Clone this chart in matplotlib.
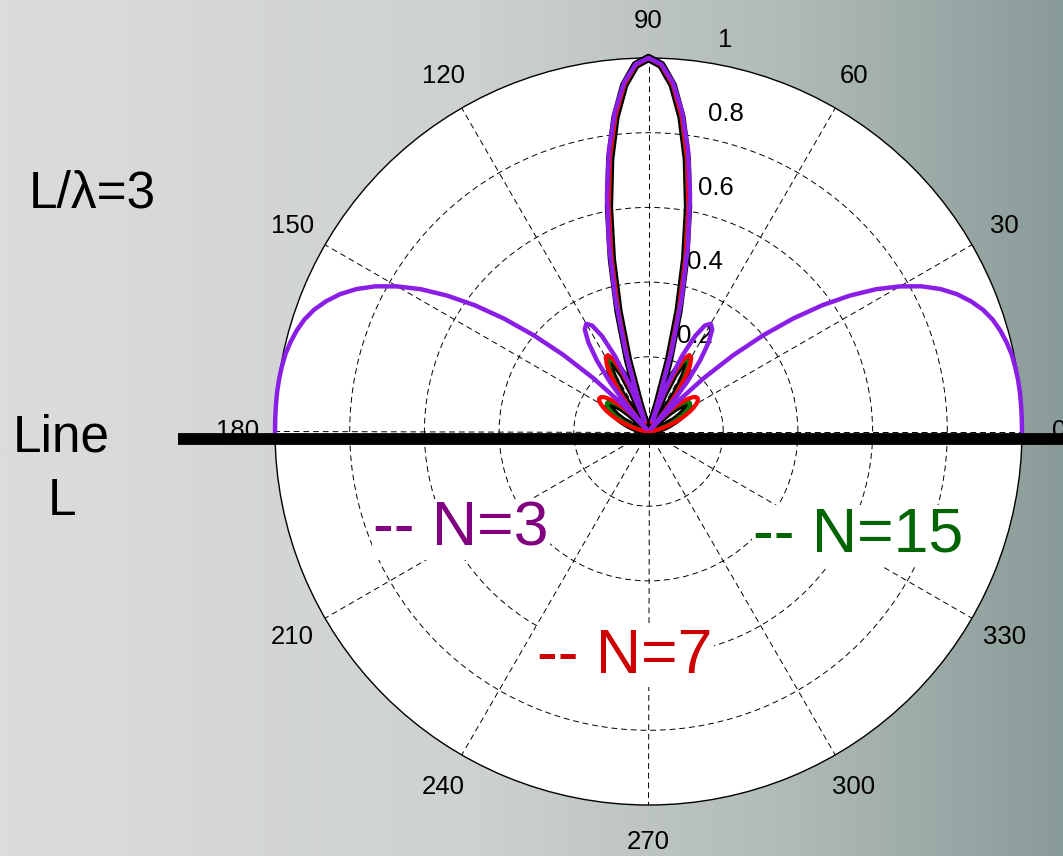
import numpy as np
import matplotlib.pyplot as plt
from matplotlib.lines import Line2D
from matplotlib.colors import LinearSegmentedColormap
import matplotlib.transforms as mtransforms

plt.rcParams['font.family'] = ['Liberation Sans', 'DejaVu Sans']

ang = np.arange(0, 181, 2)  # 각도 (도)

# 연속 선원 L/lambda=3 (검정)
r_line = [0.000, 0.001, 0.002, 0.006, 0.010, 0.015, 0.022, 0.030, 0.039, 0.050,
          0.061, 0.073, 0.085, 0.096, 0.107, 0.117, 0.124, 0.128, 0.128, 0.123,
          0.112, 0.094, 0.070, 0.040, 0.004, 0.037, 0.080, 0.122, 0.161, 0.192,
          0.212, 0.217, 0.202, 0.166, 0.107, 0.025, 0.078, 0.199, 0.333, 0.472,
          0.610, 0.737, 0.846, 0.930, 0.982, 1.000,
          0.982, 0.930, 0.846, 0.737, 0.610,
          0.472, 0.333, 0.199, 0.078, 0.025, 0.107, 0.166, 0.202, 0.217, 0.212,
          0.192, 0.161, 0.122, 0.080, 0.037, 0.004, 0.040, 0.070, 0.094, 0.112,
          0.123, 0.128, 0.128, 0.124, 0.117, 0.107, 0.096, 0.085, 0.073, 0.061,
          0.050, 0.039, 0.030, 0.022, 0.015, 0.010, 0.006, 0.002, 0.001, 0.000]

# N=15 (초록)
r_n15 = [0.000, 0.001, 0.003, 0.006, 0.011, 0.016, 0.024, 0.032, 0.042, 0.053,
         0.065, 0.077, 0.089, 0.102, 0.113, 0.123, 0.130, 0.134, 0.133, 0.128,
         0.116, 0.098, 0.073, 0.041, 0.004, 0.038, 0.082, 0.125, 0.164, 0.196,
         0.216, 0.220, 0.205, 0.168, 0.108, 0.026, 0.079, 0.200, 0.334, 0.474,
         0.611, 0.738, 0.847, 0.930, 0.982, 1.000,
         0.982, 0.930, 0.847, 0.738, 0.611,
         0.474, 0.334, 0.200, 0.079, 0.026, 0.108, 0.168, 0.205, 0.220, 0.216,
         0.196, 0.164, 0.125, 0.082, 0.038, 0.004, 0.041, 0.073, 0.098, 0.116,
         0.128, 0.133, 0.134, 0.130, 0.123, 0.113, 0.102, 0.089, 0.077, 0.065,
         0.053, 0.042, 0.032, 0.024, 0.016, 0.011, 0.006, 0.003, 0.001, 0.000]

# N=7 (빨강)
r_n7 = [0.000, 0.001, 0.003, 0.008, 0.014, 0.021, 0.030, 0.041, 0.053, 0.066,
        0.081, 0.096, 0.110, 0.125, 0.137, 0.148, 0.156, 0.159, 0.157, 0.149,
        0.134, 0.112, 0.083, 0.046, 0.004, 0.042, 0.090, 0.136, 0.177, 0.210,
        0.229, 0.232, 0.215, 0.175, 0.112, 0.026, 0.080, 0.204, 0.339, 0.479,
        0.615, 0.742, 0.849, 0.931, 0.982, 1.000,
        0.982, 0.931, 0.849, 0.742, 0.615,
        0.479, 0.339, 0.204, 0.080, 0.026, 0.112, 0.175, 0.215, 0.232, 0.229,
        0.210, 0.177, 0.136, 0.090, 0.042, 0.004, 0.046, 0.083, 0.112, 0.134,
        0.149, 0.157, 0.159, 0.156, 0.148, 0.137, 0.125, 0.110, 0.096, 0.081,
        0.066, 0.053, 0.041, 0.030, 0.021, 0.014, 0.008, 0.003, 0.001, 0.000]

# N=3 (보라)
r_n3 = [1.000, 1.000, 1.000, 1.000, 0.999, 0.997, 0.994, 0.988, 0.980, 0.969,
        0.953, 0.931, 0.904, 0.870, 0.828, 0.777, 0.719, 0.651, 0.575, 0.491,
        0.400, 0.305, 0.206, 0.106, 0.009, 0.082, 0.166, 0.235, 0.288, 0.322,
        0.333, 0.321, 0.284, 0.222, 0.136, 0.031, 0.092, 0.226, 0.367, 0.508,
        0.641, 0.761, 0.861, 0.937, 0.984, 1.000,
        0.984, 0.937, 0.861, 0.761, 0.641,
        0.508, 0.367, 0.226, 0.092, 0.031, 0.136, 0.222, 0.284, 0.321, 0.333,
        0.322, 0.288, 0.235, 0.166, 0.082, 0.009, 0.106, 0.206, 0.305, 0.400,
        0.491, 0.575, 0.651, 0.719, 0.777, 0.828, 0.870, 0.904, 0.931, 0.953,
        0.969, 0.980, 0.988, 0.994, 0.997, 0.999, 1.000, 1.000, 1.000, 1.000]

ring_r = [0.2, 0.4, 0.6, 0.8, 1.0]
ring_labels = ['0.2', '0.4', '0.6', '0.8', '1']
theta_ticks = list(range(0, 360, 30))

fig = plt.figure(figsize=(10.63, 8.56), dpi=100)

# 배경 그라데이션
bg = fig.add_axes([0, 0, 1, 1], zorder=-10)
cmap = LinearSegmentedColormap.from_list(
    'bg', [(0, '#dcdcdc'), (0.45, '#cdd1d1'), (0.75, '#afbab8'), (1, '#899b98')])
bg.imshow(np.linspace(0, 1, 512).reshape(1, -1), aspect='auto', cmap=cmap,
          extent=[0, 1, 0, 1])
bg.axis('off')

ax = fig.add_axes([275 / 1063, 51 / 856, 747 / 1063, 747 / 856], projection='polar')
ax.set_facecolor('white')
ax.set_ylim(0, 1)
ax.set_yticks(ring_r[:-1])
ax.set_yticklabels([])
ax.set_xticks(np.deg2rad(theta_ticks))
ax.set_xticklabels([])
ax.tick_params(length=0)
ax.grid(True, color='k', lw=0.7, ls=(0, (6, 4)))
ax.spines['polar'].set_linewidth(1.0)

th = np.deg2rad(ang)
ax.plot(th, r_line, color='k', lw=6, zorder=3, clip_on=False)
ax.plot(th, r_n15, color='#007a00', lw=3, zorder=4, clip_on=False)
ax.plot(th, r_n7, color='red', lw=3, zorder=5, clip_on=False)
ax.plot(th, r_n3, color='#8a1ee6', lw=3.2, zorder=6, clip_on=False)

# 각도 눈금
for t in theta_ticks:
    ax.text(np.deg2rad(t), 1.1, str(t), ha='center', va='center',
            fontsize=18.5, clip_on=False)

# 반지름 눈금
trans = mtransforms.offset_copy(ax.transData, fig=fig, x=18, y=22, units='dots')
for r, lab in zip(ring_r, ring_labels):
    ax.text(np.deg2rad(82), r, lab, transform=trans, ha='left', va='center',
            fontsize=18.5)

# 선 L
fig.add_artist(Line2D([178 / 1063, 1], [1 - 438.5 / 856, 1 - 438.5 / 856],
                      transform=fig.transFigure, color='k', lw=8.5,
                      solid_capstyle='butt'))

H = 856.0
W = 1063.0
fig.text(92 / W, 1 - 207 / H, 'L/λ=3', fontsize=37, ha='center', va='baseline')
fig.text(61 / W, 1 - 452 / H, 'Line', fontsize=37, ha='center', va='baseline')
fig.text(62 / W, 1 - 515 / H, 'L', fontsize=37, ha='center', va='baseline')

box = dict(facecolor='white', edgecolor='none', pad=1)
fig.text(461 / W, 1 - 546 / H, '-- N=3', fontsize=45, color='#800080',
         ha='center', va='baseline', bbox=box)
fig.text(858 / W, 1 - 552 / H, '-- N=15', fontsize=45, color='#006400',
         ha='center', va='baseline', bbox=box)
fig.text(625 / W, 1 - 673 / H, '-- N=7', fontsize=45, color='#cc0000',
         ha='center', va='baseline', bbox=box)

plt.savefig('out.png', dpi=100)
